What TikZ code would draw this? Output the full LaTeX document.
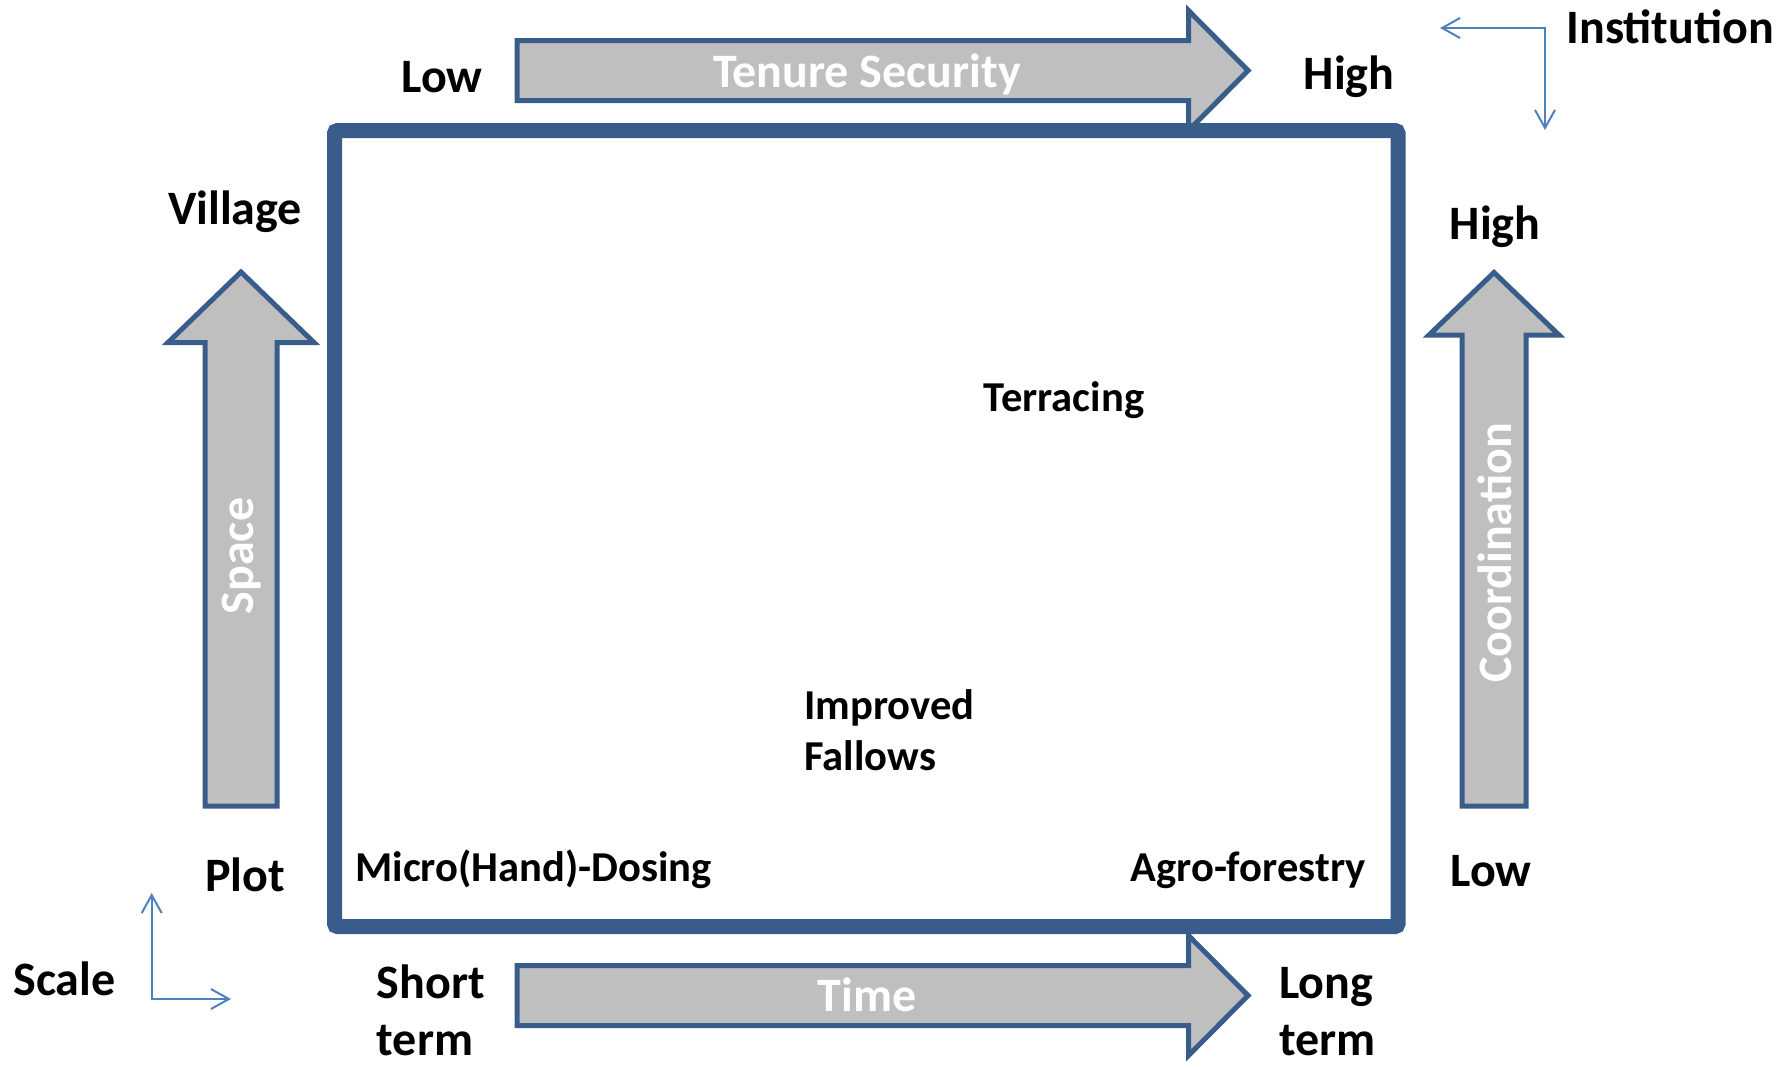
\documentclass[tikz,border=0pt]{standalone}
\usepackage{fontspec}
\setmainfont{Carlito}
\usetikzlibrary{arrows.meta}
\definecolor{frameblue}{HTML}{385D8A}
\definecolor{arrowgray}{HTML}{BFBFBF}
\definecolor{axisblue}{HTML}{4F81BD}

\begin{document}
\begin{tikzpicture}[x=0.5pt,y=-0.5pt,
  txt/.style={font=\fontsize{24}{28.2}\selectfont\bfseries, inner sep=0pt},
  intxt/.style={font=\fontsize{21.3}{25.5}\selectfont\bfseries, inner sep=0pt},
  wtxt/.style={txt, text=white},
  bigarrow/.style={draw=frameblue, fill=arrowgray, line width=2.5pt, miter limit=10},
  axisarrow/.style={draw=axisblue, line width=1pt,
    {Straight Barb[length=9pt,width=10pt]}-{Straight Barb[length=9pt,width=10pt]}}]

\useasboundingbox (0,0) rectangle (1778,1067);

% block arrows
\path[bigarrow] (517,40.5) -- (1188.5,40.5) -- (1188.5,10.5) -- (1248,70.5)
  -- (1188.5,130.5) -- (1188.5,100.5) -- (517,100.5) -- cycle;
\path[bigarrow] (517,965.5) -- (1188.5,965.5) -- (1188.5,935.5) -- (1248,995.5)
  -- (1188.5,1055.5) -- (1188.5,1025.5) -- (517,1025.5) -- cycle;
\path[bigarrow] (205,806) -- (205,342.5) -- (168,342.5) -- (241,272)
  -- (314,342.5) -- (277,342.5) -- (277,806) -- cycle;
\path[bigarrow] (1462,806) -- (1462,335) -- (1429,335) -- (1494,272.5)
  -- (1559,335) -- (1526,335) -- (1526,806) -- cycle;

% main frame
\draw[line width=7.5pt, draw=frameblue, rounded corners=1.5pt]
  (334.5,130.5) rectangle (1398,926.5);

% labels on the block arrows
\node[wtxt, anchor=base] (tenure) at (867,87.3) {Tenure Security};
\node[wtxt, anchor=base] (time) at (867,1011.7) {Time};
\node[wtxt, rotate=90] (space) at (241.5,556) {Space};
\node[wtxt, rotate=90] (coord) at (1494.5,553) {Coordination};

% axis end labels
\node[txt, anchor=base] (lowtop) at (442,92.5) {Low};
\node[txt, anchor=base] (hightop) at (1349,89.5) {High};
\node[txt, anchor=base] (village) at (235,224.5) {Village};
\node[txt, anchor=base] (plot) at (245,891) {Plot};
\node[txt, anchor=base] (highright) at (1495,239) {High};
\node[txt, anchor=base] (lowright) at (1491,886.5) {Low};
\node[txt, anchor=base west, align=left] (short) at (376.5,1055) {Short\\term};
\node[txt, anchor=base west, align=left] (long) at (1279,1055) {Long\\term};

% practices inside the frame
\node[intxt, anchor=base] (terr) at (1064,411.5) {Terracing};
\node[intxt, anchor=base west, align=left] (impr) at (804,770.5) {Improved\\Fallows};
\node[intxt, anchor=base west] (micro) at (355,881.7) {Micro(Hand)-Dosing};
\node[intxt, anchor=base east] (agro) at (1366,881.7) {Agro-forestry};

% legend axes
\node[txt, anchor=base west] (inst) at (1566,43.3) {Institution};
\node[txt, anchor=base west] (scale) at (13,995) {Scale};
\coordinate (instC) at (1545,28);
\coordinate (instL) at (1440,28);
\coordinate (instD) at (1545,130);
\draw[axisarrow] (instL) -- (instC) -- (instD);
\coordinate (scC) at (151.7,999);
\coordinate (scU) at (151.7,893);
\coordinate (scR) at (231,999);
\draw[axisarrow] (scU) -- (scC) -- (scR);
\end{tikzpicture}
\end{document}
